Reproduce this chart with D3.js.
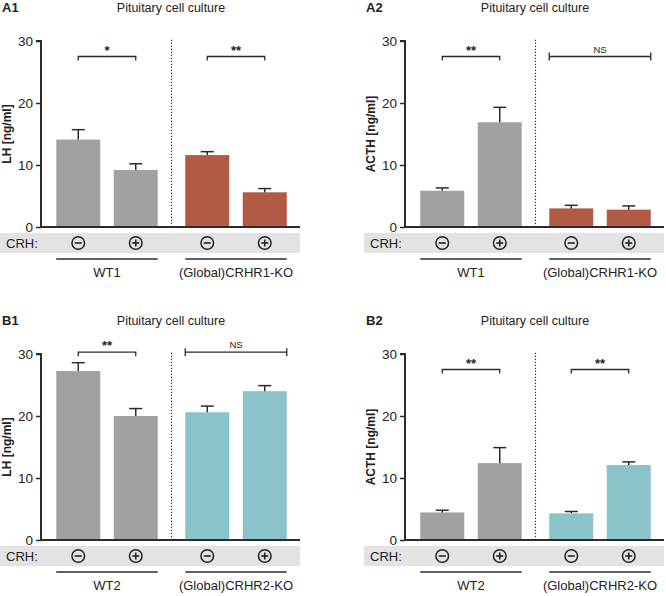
<!DOCTYPE html>
<html><head><meta charset="utf-8">
<script src="https://cdn.jsdelivr.net/npm/d3@7"></script>
<style>body{margin:0;background:#fff}svg{display:block;font-family:"Liberation Sans",Arial,sans-serif}</style>
</head><body><svg id="c" width="666" height="596"></svg>
<script>
// ---- data ----
const treatments = ["-", "+"];
const yTicks = [0, 10, 20, 30];
const title = "Pituitary cell culture";

const a1Groups = ["WT1", "(Global)CRHR1-KO"];
const a1Means = [14.1, 9.2, 11.6, 5.6];
const a1Sem = [1.6, 1.0, 0.55, 0.6];
const a1Sig = ["*", "**"];

const a2Groups = ["WT1", "(Global)CRHR1-KO"];
const a2Means = [5.85, 16.9, 3.0, 2.8];
const a2Sem = [0.45, 2.4, 0.5, 0.6];
const a2Sig = ["**", "NS"];

const b1Groups = ["WT2", "(Global)CRHR2-KO"];
const b1Means = [27.25, 20.0, 20.6, 24.0];
const b1Sem = [1.35, 1.2, 1.0, 0.9];
const b1Sig = ["**", "NS"];

const b2Groups = ["WT2", "(Global)CRHR2-KO"];
const b2Means = [4.45, 12.4, 4.3, 12.1];
const b2Sem = [0.35, 2.5, 0.3, 0.5];
const b2Sig = ["**", "**"];

const colors = {wt: "#a1a1a1", ko1: "#b15b45", ko2: "#8bc3cb"};

const panels = [
  {id: "A1", yLabel: "LH [ng/ml]", groups: a1Groups, means: a1Means, sem: a1Sem, sig: a1Sig, sigY: 27.5, ko: colors.ko1, x0: 41, zero: 227},
  {id: "A2", yLabel: "ACTH [ng/ml]", groups: a2Groups, means: a2Means, sem: a2Sem, sig: a2Sig, sigY: 27.5, ko: colors.ko1, x0: 405, zero: 227},
  {id: "B1", yLabel: "LH [ng/ml]", groups: b1Groups, means: b1Means, sem: b1Sem, sig: b1Sig, sigY: 30.3, ko: colors.ko2, x0: 41, zero: 540},
  {id: "B2", yLabel: "ACTH [ng/ml]", groups: b2Groups, means: b2Means, sem: b2Sem, sig: b2Sig, sigY: 27.5, ko: colors.ko2, x0: 405, zero: 540}
];

const svg = d3.select("#c");
const ink = "#2b2b2b";

panels.forEach(p => {
  const g = svg.append("g");
  const y = d3.scaleLinear().domain([0, 30]).range([p.zero, p.zero - 186]);
  const outer = d3.scaleBand().domain(p.groups).range([p.x0 + 8.5, p.x0 + 252.5]).paddingInner(14 / 129).paddingOuter(0);
  const pi = 13.5 / 57.5;
  const inner = d3.scaleBand().domain(treatments).range([0, outer.bandwidth()]).paddingInner(pi).paddingOuter(pi / 2);
  const bars = [];
  p.groups.forEach((grp, gi) => treatments.forEach((t, ti) => {
    const i = gi * 2 + ti;
    bars.push({grp, t, gi, i, mean: p.means[i], sem: p.sem[i], x: outer(grp) + inner(t)});
  }));
  const bw = inner.bandwidth();
  const cx = d => d.x + bw / 2;

  // panel label & title
  g.append("text").attr("x", p.x0 - 39).attr("y", p.zero - 215).attr("font-weight", "bold").attr("font-size", 13).attr("fill", "#222").text(p.id);
  g.append("text").attr("x", p.x0 + 130).attr("y", p.zero - 215).attr("text-anchor", "middle").attr("font-size", 12.5).attr("fill", "#222").text(title);

  // CRH band
  g.append("rect").attr("x", p.x0 - 41).attr("y", p.zero + 6).attr("width", 300).attr("height", 20).attr("fill", "#e3e3e3");
  g.append("text").attr("x", p.x0 - 35).attr("y", p.zero + 16).attr("dy", "0.35em").attr("font-size", 13).attr("fill", "#222").text("CRH:");

  // bars
  g.selectAll("rect.bar").data(bars).join("rect").attr("class", "bar")
    .attr("x", d => d.x).attr("width", bw)
    .attr("y", d => y(d.mean)).attr("height", d => y(0) - y(d.mean))
    .attr("fill", d => d.gi === 0 ? colors.wt : p.ko);

  // error bars
  g.selectAll("line.err").data(bars).join("line").attr("class", "err")
    .attr("x1", cx).attr("x2", cx).attr("y1", d => y(d.mean)).attr("y2", d => y(d.mean + d.sem))
    .attr("stroke", ink).attr("stroke-width", 1.5);
  g.selectAll("line.cap").data(bars).join("line").attr("class", "cap")
    .attr("x1", d => cx(d) - 6.5).attr("x2", d => cx(d) + 6.5).attr("y1", d => y(d.mean + d.sem)).attr("y2", d => y(d.mean + d.sem))
    .attr("stroke", ink).attr("stroke-width", 1.5);

  // divider
  const divX = (outer(p.groups[0]) + inner("+") + bw + outer(p.groups[1]) + inner("-")) / 2;
  g.append("line").attr("x1", divX).attr("x2", divX).attr("y1", y(30.2)).attr("y2", y(0))
    .attr("stroke", ink).attr("stroke-width", 1.1).attr("stroke-dasharray", "1.2,1.8");

  // axes
  const ax = d3.axisLeft(y).tickValues(yTicks).tickSize(5).tickPadding(3);
  const ag = g.append("g").attr("transform", `translate(${p.x0},0)`).call(ax);
  ag.select(".domain").attr("stroke", ink).attr("stroke-width", 2).attr("d", `M-5,${y(30)}H0V${y(0)}`);
  ag.selectAll(".tick line").attr("stroke", ink).attr("stroke-width", 1.5);
  ag.selectAll(".tick text").attr("font-size", 13.5).attr("fill", "#222").attr("font-family", "Liberation Sans, Arial, sans-serif");
  g.append("line").attr("x1", p.x0 - 1).attr("x2", p.x0 + 259).attr("y1", y(0)).attr("y2", y(0)).attr("stroke", ink).attr("stroke-width", 2);

  g.append("text").attr("transform", `translate(${p.x0 - 34},${(y(0) + y(30)) / 2}) rotate(-90)`)
    .attr("text-anchor", "middle").attr("dy", "0.35em").attr("font-weight", "bold").attr("font-size", 12).attr("fill", "#222").text(p.yLabel);

  // CRH symbols
  const sy = p.zero + 16;
  bars.forEach(d => {
    g.append("circle").attr("cx", cx(d)).attr("cy", sy).attr("r", 6.3).attr("fill", "none").attr("stroke", "#222").attr("stroke-width", 1.5);
    g.append("line").attr("x1", cx(d) - 3.5).attr("x2", cx(d) + 3.5).attr("y1", sy).attr("y2", sy).attr("stroke", "#222").attr("stroke-width", 1.6);
    if (d.t === "+") g.append("line").attr("x1", cx(d)).attr("x2", cx(d)).attr("y1", sy - 3.5).attr("y2", sy + 3.5).attr("stroke", "#222").attr("stroke-width", 1.6);
  });

  // group lines & labels
  p.groups.forEach(grp => {
    const x1 = outer(grp) + inner("-"), x2 = outer(grp) + inner("+") + bw;
    g.append("line").attr("x1", x1).attr("x2", x2).attr("y1", p.zero + 32).attr("y2", p.zero + 32).attr("stroke", ink).attr("stroke-width", 1.3);
    g.append("text").attr("x", (x1 + x2) / 2).attr("y", p.zero + 50).attr("text-anchor", "middle").attr("font-size", 13).attr("fill", "#222").text(grp);
  });

  // significance
  p.sig.forEach((lab, gi) => {
    const yy = y(p.sigY);
    const gb = bars.filter(b => b.gi === gi);
    if (lab === "NS") {
      const x1 = gb[0].x, x2 = gb[1].x + bw;
      g.append("path").attr("d", `M${x1},${yy - 4}V${yy + 4}M${x1},${yy}H${x2}M${x2},${yy - 4}V${yy + 4}`).attr("fill", "none").attr("stroke", ink).attr("stroke-width", 1.3);
      g.append("text").attr("x", (x1 + x2) / 2).attr("y", yy - 4).attr("text-anchor", "middle").attr("font-size", 9.5).attr("fill", "#222").text(lab);
    } else {
      const x1 = cx(gb[0]), x2 = cx(gb[1]);
      g.append("path").attr("d", `M${x1},${yy + 4}V${yy}H${x2}V${yy + 4}`).attr("fill", "none").attr("stroke", ink).attr("stroke-width", 1.3);
      g.append("text").attr("x", (x1 + x2) / 2).attr("y", yy - 2).attr("text-anchor", "middle").attr("font-size", 13).attr("font-weight", "bold").attr("fill", "#222").text(lab);
    }
  });
});
</script></body></html>
